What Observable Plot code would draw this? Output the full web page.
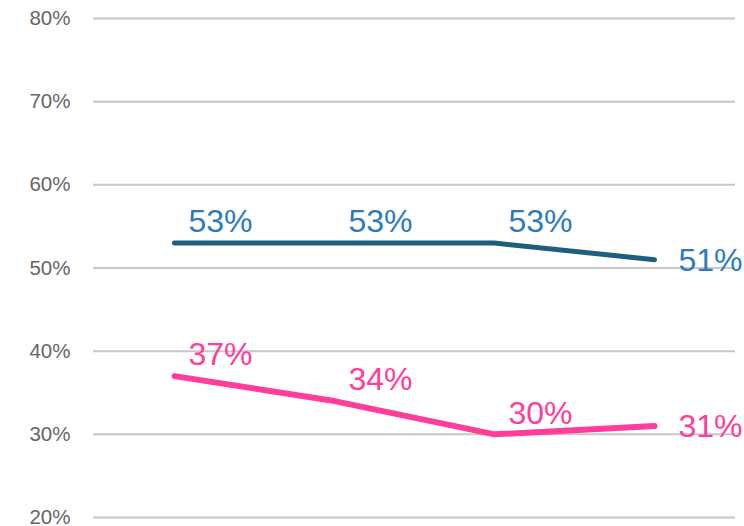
<!DOCTYPE html>
<html>
<head>
<meta charset="utf-8">
<script src="https://cdn.jsdelivr.net/npm/d3@7"></script>
<script src="https://cdn.jsdelivr.net/npm/@observablehq/plot@0.6"></script>
<style>
  html, body { margin: 0; padding: 0; background: #fff; }
  svg { display: block; }
</style>
</head>
<body>
<div id="chart"></div>
<script>
const periods = ["P1", "P2", "P3", "P4"];
const blueValues = [53, 53, 53, 51];
const pinkValues = [37, 34, 30, 31];
const yTicks = [20, 30, 40, 50, 60, 70, 80];

const blueColor = "#1d5d80";
const blueLabel = "#2a7bc1";
const pinkColor = "#ff3d9b";

const rows = [];
periods.forEach((p, i) => {
  rows.push({period: p, value: blueValues[i], series: "blue", i});
  rows.push({period: p, value: pinkValues[i], series: "pink", i});
});
const last = periods.length - 1;

const chart = Plot.plot({
  width: 744,
  height: 526,
  marginLeft: 93,
  marginRight: 9,
  marginTop: 18,
  marginBottom: 9,
  style: {fontFamily: "'Liberation Sans', Arial, sans-serif", background: "#fff"},
  x: {type: "point", domain: periods, padding: 0.5, axis: null},
  y: {domain: [20, 80], ticks: yTicks, tickFormat: d => d + "%", label: null},
  marks: [
    Plot.ruleY(yTicks, {stroke: "#c8c8c8", strokeWidth: 2}),
    Plot.axisY({ticks: yTicks, tickFormat: d => d + "%", tickSize: 0, tickPadding: 23, fontSize: 20.5, fill: "#666", label: null}),
    Plot.line(rows.filter(d => d.series === "blue"), {x: "period", y: "value", stroke: blueColor, strokeWidth: 5, strokeLinecap: "round", strokeLinejoin: "round"}),
    Plot.line(rows.filter(d => d.series === "pink"), {x: "period", y: "value", stroke: pinkColor, strokeWidth: 6, strokeLinecap: "round", strokeLinejoin: "round"}),
    Plot.text(rows.filter(d => d.i < last), {x: "period", y: "value", text: d => d.value + "%", fill: d => d.series === "blue" ? blueLabel : pinkColor, textAnchor: "start", dx: 14, dy: -21, fontSize: 32}),
    Plot.text(rows.filter(d => d.i === last), {x: "period", y: "value", text: d => d.value + "%", fill: d => d.series === "blue" ? blueLabel : pinkColor, textAnchor: "start", dx: 24, dy: 1, fontSize: 32})
  ]
});
document.getElementById("chart").appendChild(chart);
</script>
</body>
</html>
